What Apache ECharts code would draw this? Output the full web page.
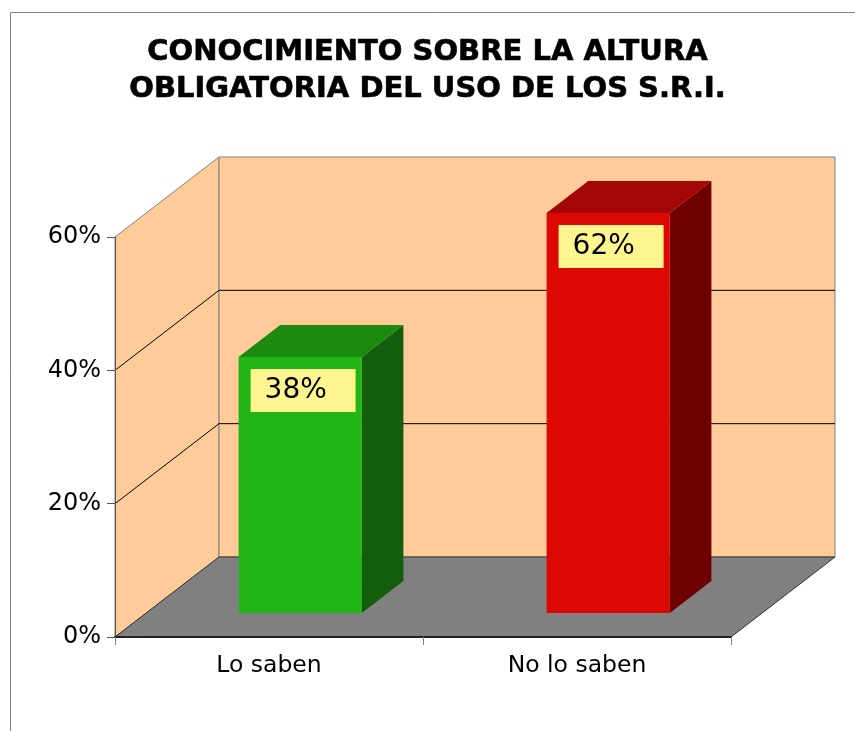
<!DOCTYPE html>
<html>
<head>
<meta charset="utf-8">
<script src="https://cdn.jsdelivr.net/npm/echarts@6/dist/echarts.min.js"></script>
<style>
  html, body { margin: 0; padding: 0; background: #fff; }
  #chart { width: 855px; height: 731px; }
</style>
</head>
<body>
<div id="chart"></div>
<script>
var categories = ['Lo saben', 'No lo saben'];
var values = [0.384, 0.616];
var yTicks = [0, 0.2, 0.4, 0.6];
var frontColors = ['#21b515', '#dc0804'];
var topColors = ['#1b8a10', '#a40505'];
var sideColors = ['#125e0b', '#6e0000'];

// depth of the 3d box in pixels
var DX = 104, DY = -80;
var yMax = yTicks[yTicks.length - 1];

function pct(v) { return Math.round(v * 100) + '%'; }

function renderWalls(params, api) {
  var cs = params.coordSys;
  var x = cs.x, y = cs.y, w = cs.width, h = cs.height;
  var kids = [];
  // side wall
  kids.push({ type: 'polygon', shape: { points: [[x, y + h], [x, y], [x + DX, y + DY], [x + DX, y + h + DY]] },
    style: { fill: '#ffcc99', stroke: '#808080', lineWidth: 1 } });
  // back wall
  kids.push({ type: 'rect', shape: { x: x + DX, y: y + DY, width: w, height: h },
    style: { fill: '#ffcc99', stroke: '#808080', lineWidth: 1 } });
  // grid lines on the walls
  for (var i = 1; i < yTicks.length - 1; i++) {
    var yy = api.coord([0, yTicks[i]])[1];
    kids.push({ type: 'polyline', shape: { points: [[x, yy], [x + DX, yy + DY], [x + w + DX, yy + DY]] },
      style: { stroke: '#000', lineWidth: 1, fill: null } });
  }
  // floor
  kids.push({ type: 'polygon', shape: { points: [[x, y + h], [x + DX, y + h + DY], [x + w + DX, y + h + DY], [x + w, y + h]] },
    style: { fill: '#808080', stroke: '#333', lineWidth: 1 } });
  return { type: 'group', children: kids };
}

function renderBar(params, api) {
  var i = api.value(0);
  var v = api.value(1);
  var base = api.coord([i, 0]);
  var top = api.coord([i, Math.min(v, yMax)]);
  var cw = api.size([1, 0])[0];
  var bw = cw * 0.4;
  var ox = DX * 0.3, oy = DY * 0.3;
  var ddx = DX * 0.4, ddy = DY * 0.4;
  var x0 = base[0] + ox - bw / 2, x1 = x0 + bw;
  var y0 = top[1] + oy, y1 = base[1] + oy;
  var idx = params.dataIndex;
  return {
    type: 'group',
    children: [
      { type: 'polygon', shape: { points: [[x1, y0], [x1 + ddx, y0 + ddy], [x1 + ddx, y1 + ddy], [x1, y1]] },
        style: { fill: sideColors[idx] } },
      { type: 'polygon', shape: { points: [[x0, y0], [x0 + ddx, y0 + ddy], [x1 + ddx, y0 + ddy], [x1, y0]] },
        style: { fill: topColors[idx] } },
      { type: 'rect', shape: { x: x0, y: y0, width: bw, height: y1 - y0 },
        style: { fill: frontColors[idx] } },
      { type: 'rect', shape: { x: x0 + 12, y: y0 + 12, width: 105, height: 43 },
        style: { fill: '#fff58f' } },
      { type: 'text', x: x0 + 26, y: y0 + 12 + 22,
        style: { text: pct(v), fill: '#000', font: '28px "DejaVu Sans"', verticalAlign: 'middle', align: 'left' } }
    ]
  };
}

var myChart = echarts.init(document.getElementById('chart'));

var option = {
  backgroundColor: '#fff',
  animation: false,
  title: {
    text: 'CONOCIMIENTO SOBRE LA ALTURA\nOBLIGATORIA DEL USO DE LOS S.R.I.',
    left: 'center',
    top: 34,
    padding: 0,
    textStyle: { fontFamily: 'DejaVu Sans', fontWeight: 'bold', fontSize: 29, lineHeight: 37, color: '#000',
      textBorderColor: '#000', textBorderWidth: 0.6 }
  },
  graphic: [
    { type: 'rect', shape: { x: 10.5, y: 12.5, width: 900, height: 800 }, style: { fill: null, stroke: '#808080', lineWidth: 1 }, z: -10 }
  ],
  grid: { left: 115, top: 237, right: 124, bottom: 94 },
  xAxis: {
    type: 'category',
    data: categories,
    z: 10,
    axisLine: { lineStyle: { color: '#222', width: 2 } },
    axisTick: { show: true, length: 8, lineStyle: { color: '#808080' } },
    axisLabel: { fontFamily: 'DejaVu Sans', fontSize: 23.5, color: '#000', margin: 17 },
    splitLine: { show: false }
  },
  yAxis: {
    type: 'value',
    min: 0,
    max: yMax,
    interval: 0.2,
    z: 10,
    axisLine: { show: true, lineStyle: { color: '#555', width: 1 } },
    axisTick: { show: true, length: 8, lineStyle: { color: '#555' } },
    axisLabel: { fontFamily: 'DejaVu Sans', fontSize: 24, color: '#000', margin: 14, padding: [6, 0, 0, 0], formatter: pct },
    splitLine: { show: false }
  },
  series: [
    {
      type: 'custom',
      z: 1,
      silent: true,
      renderItem: renderWalls,
      data: [[0, 0]]
    },
    {
      type: 'custom',
      z: 2,
      renderItem: renderBar,
      data: values.map(function (v, i) { return [i, v]; })
    }
  ]
};

myChart.setOption(option);
</script>
</body>
</html>
